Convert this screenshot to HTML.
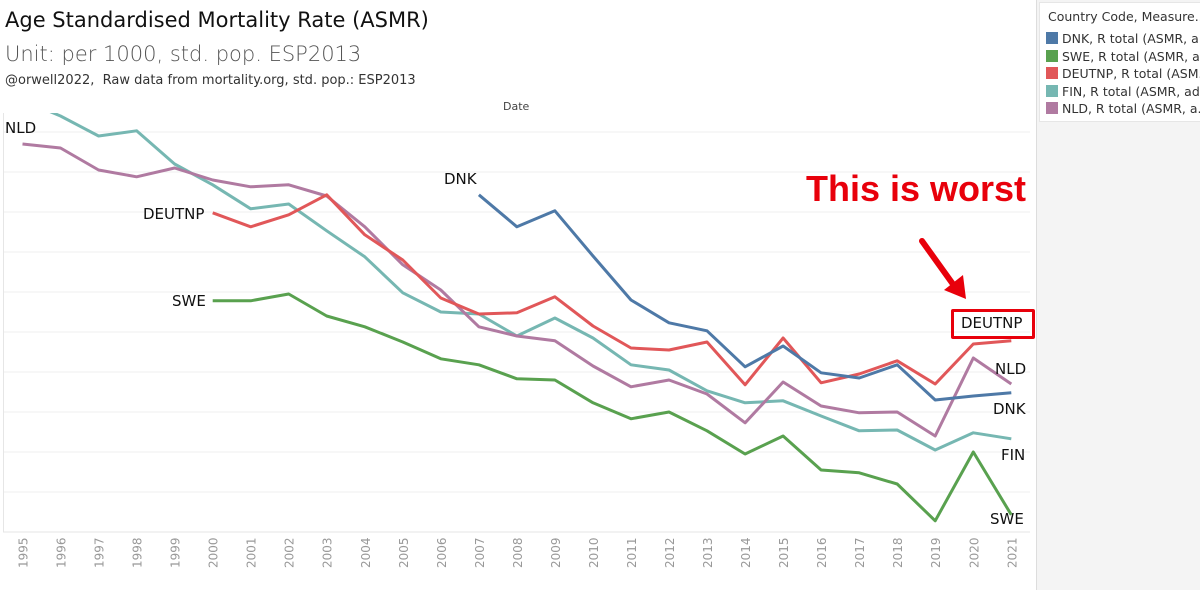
<!DOCTYPE html>
<html><head><meta charset="utf-8"><style>
html,body{margin:0;padding:0;background:#fff;}
body{width:1200px;height:590px;position:relative;overflow:hidden;font-family:"DejaVu Sans","Liberation Sans",sans-serif;}
.t{position:absolute;white-space:nowrap;}
</style></head><body>
<div class="t" style="left:5px;top:8px;font-size:21px;color:#111;">Age Standardised Mortality Rate (ASMR)</div>
<div class="t" style="left:5px;top:42px;font-size:21px;color:#555;font-weight:300;">Unit: per 1000, std. pop. ESP2013</div>
<div class="t" style="left:5px;top:73px;font-size:13px;color:#333;">@orwell2022,&nbsp; Raw data from mortality.org, std. pop.: ESP2013</div>
<div class="t" style="left:503px;top:100px;font-size:11px;color:#444;">Date</div>
<div style="position:absolute;left:1036px;top:0;width:164px;height:590px;background:#f4f4f4;border-left:1px solid #ddd;">
 <div style="position:absolute;left:2px;top:2px;width:162px;height:118px;background:#fff;border:1px solid #e6e6e6;font-size:12.5px;color:#333;">
  <div class="t" style="left:8px;top:6px;">Country Code, Measure...</div>
  <div id="leg"></div>
 </div>
</div>
<svg id="chart" width="1036" height="590" style="position:absolute;left:0;top:0;"></svg>
<script>
const years=[1995,1996,1997,1998,1999,2000,2001,2002,2003,2004,2005,2006,2007,2008,2009,2010,2011,2012,2013,2014,2015,2016,2017,2018,2019,2020,2021];
const fin=[18.8,18.4,17.9,18.03,17.2,16.68,16.08,16.2,15.53,14.88,13.98,13.5,13.45,12.9,13.35,12.85,12.18,12.05,11.53,11.23,11.28,10.9,10.53,10.55,10.05,10.48,10.33];
const nld=[17.7,17.6,17.05,16.88,17.1,16.8,16.63,16.68,16.4,15.63,14.68,14.05,13.13,12.9,12.78,12.15,11.63,11.8,11.45,10.73,11.75,11.15,10.98,11.0,10.4,12.35,11.7];
const deu=[null,null,null,null,null,15.98,15.63,15.93,16.43,15.43,14.8,13.85,13.45,13.48,13.88,13.15,12.6,12.55,12.75,11.68,12.85,11.73,11.95,12.28,11.7,12.7,12.78];
const dnk=[null,null,null,null,null,null,null,null,null,null,null,null,16.43,15.63,16.03,14.9,13.8,13.23,13.03,12.13,12.65,11.98,11.85,12.18,11.3,11.4,11.48];
const swe=[null,null,null,null,null,13.78,13.78,13.95,13.4,13.13,12.75,12.33,12.18,11.83,11.8,11.23,10.83,11.0,10.53,9.95,10.4,9.55,9.48,9.2,8.28,10.0,8.43];
const gridVals=[8,9,10,11,12,13,14,15,16,17,18];
const seriesNames=["DNK","SWE","DEUTNP","FIN","NLD"];
const legendLabels=["DNK, R total (ASMR, a..","SWE, R total (ASMR, a..","DEUTNP, R total (ASM..","FIN, R total (ASMR, ad..","NLD, R total (ASMR, a.."];
const colors=["#4e79a7","#59a14f","#e15759","#76b7b2","#b07aa1"];
const seriesData=[dnk,swe,deu,fin,nld];

const NS="http://www.w3.org/2000/svg";
const svg=document.getElementById('chart');
const x=i=>22.5+(years[i]-1995)*38.03;
const y=v=>532-(v-8)*40;
function mk(t,a){const e=document.createElementNS(NS,t);for(const k in a)e.setAttribute(k,a[k]);svg.appendChild(e);return e;}
const defs=mk('defs',{});
const cp=document.createElementNS(NS,'clipPath');cp.setAttribute('id','clip');
const cr=document.createElementNS(NS,'rect');cr.setAttribute('x',3);cr.setAttribute('y',113);cr.setAttribute('width',1030);cr.setAttribute('height',425);
cp.appendChild(cr);defs.appendChild(cp);
gridVals.forEach(g=>{
  const l=mk('line',{x1:3,x2:1030,y1:y(g),y2:y(g),stroke:g===8?'#e4e4e4':'#efefef','stroke-width':1});
  
  
});
const ax=mk('line',{x1:3.5,x2:3.5,y1:113,y2:532,stroke:'#e6e6e6'});


years.forEach((yr,i)=>{
  const t=mk('text',{x:0,y:0,transform:`translate(${x(i)+5},${568}) rotate(-90)`,'font-size':12,fill:'#999','font-family':'DejaVu Sans,sans-serif'});
  t.textContent=yr;
  
  
});
const g=mk('g',{'clip-path':'url(#clip)'});
const order=[3,4,2,0,1];
order.forEach(s=>{
  const d=seriesData[s];let p='';
  d.forEach((v,i)=>{if(v!==null)p+=(p?'L':'M')+x(i).toFixed(1)+','+y(v).toFixed(1);});
  const e=document.createElementNS(NS,'path');
  e.setAttribute('d',p);e.setAttribute('fill','none');e.setAttribute('stroke',colors[s]);e.setAttribute('stroke-width',3);e.setAttribute('stroke-linejoin','round');
  
  
  g.appendChild(e);
});
const leg=document.getElementById('leg');
legendLabels.forEach((lab,i)=>{
  const r=document.createElement('div');
  r.style.cssText=`position:absolute;left:6px;top:${28+i*17.5}px;white-space:nowrap;`;
  r.innerHTML=`<span style="display:inline-block;width:12px;height:12px;background:${colors[i]};vertical-align:-1px;margin-right:4px"></span>${lab}`;
  
  
  leg.appendChild(r);
});
</script>
<div class="t" style="left:5px;top:119px;font-size:15px;color:#111;">NLD</div>
<div class="t" style="left:143px;top:205px;font-size:15px;color:#111;">DEUTNP</div>
<div class="t" style="left:172px;top:292px;font-size:15px;color:#111;">SWE</div>
<div class="t" style="left:444px;top:170px;font-size:15px;color:#111;">DNK</div>
<div class="t" style="left:806px;top:168px;font-size:36px;font-weight:bold;color:#e8000b;font-family:'Liberation Sans',sans-serif;">This is worst</div>
<svg width="1200" height="590" style="position:absolute;left:0;top:0;pointer-events:none;">
<line x1="922" y1="241" x2="955" y2="287" stroke="#e8000b" stroke-width="6" stroke-linecap="round"/>
<polygon points="944,290 966,299 963,275" fill="#e8000b"/>
</svg>
<div style="position:absolute;left:951px;top:309px;width:78px;height:24px;border:3px solid #e8000b;border-radius:2px;"></div>
<div class="t" style="left:961px;top:314px;font-size:15px;color:#111;">DEUTNP</div>
<div class="t" style="left:995px;top:360px;font-size:15px;color:#111;">NLD</div>
<div class="t" style="left:993px;top:400px;font-size:15px;color:#111;">DNK</div>
<div class="t" style="left:1001px;top:446px;font-size:15px;color:#111;">FIN</div>
<div class="t" style="left:990px;top:510px;font-size:15px;color:#111;">SWE</div>
</body></html>
